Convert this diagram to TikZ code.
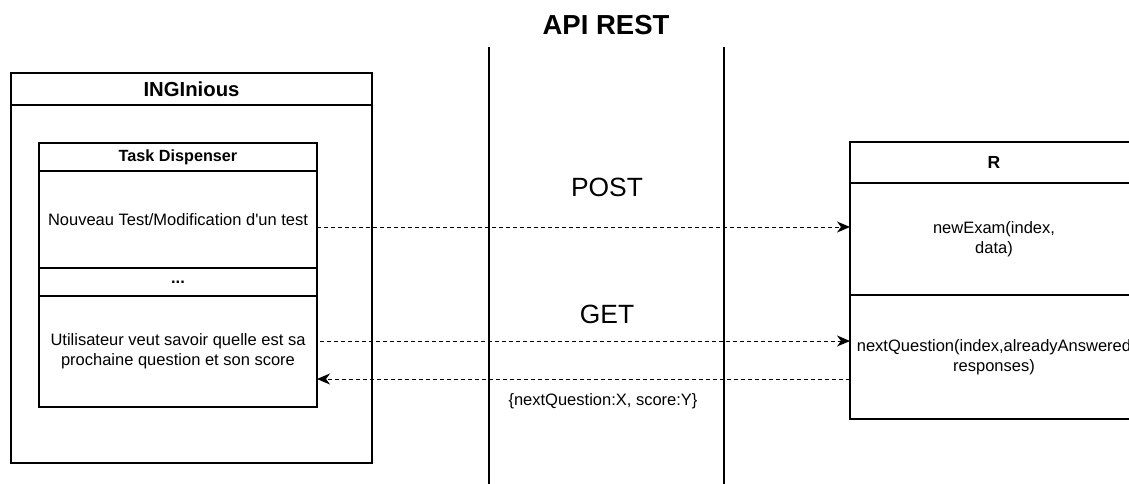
\documentclass[tikz,border=0pt]{standalone}
\usepackage{fontspec}
\setmainfont{Liberation Sans}
\usetikzlibrary{positioning,arrows.meta}
\tikzstyle{lane} = [rectangle, draw, line width=1.2pt, inner sep=0pt, outer sep=0pt, align=center, font=\fontsize{16.5}{20}\selectfont]
\tikzstyle{head} = [lane, font=\fontsize{16.5}{20}\selectfont\bfseries]
\tikzstyle{method} = [text centered, font=\fontsize{26.4}{30}\selectfont]
\tikzstyle{boundary} = [line width=2.6pt]
\tikzstyle{connector} = [line width=1pt, dash pattern=on 4pt off 3pt, -{Stealth[length=13pt,width=11pt,inset=4pt]}]

\begin{document}
\begin{tikzpicture}[x=1pt,y=-1pt]
    \useasboundingbox (0,0) rectangle (1129,484);
    % API REST
    \node (api) [font=\fontsize{27.5}{30}\selectfont\bfseries] at (606,25) {API REST};
    \coordinate (left-top) at (489,47);
    \coordinate (left-bottom) at (489,484);
    \coordinate (right-top) at (724,47);
    \coordinate (right-bottom) at (724,484);
    \draw [boundary] (left-top) -- (left-bottom);
    \draw [boundary] (right-top) -- (right-bottom);
    % INGInious
    \node (ing-head) [head, font=\fontsize{20.3}{24}\selectfont\bfseries, anchor=north west, minimum width=361pt, minimum height=32pt] at (11,73) {INGInious};
    \node (ing-body) [lane, below=0pt of ing-head, minimum width=361pt, minimum height=358pt] {};
    \node (td-head) [head, font=\fontsize{16.2}{20}\selectfont\bfseries, anchor=north west, minimum width=278pt, minimum height=28pt] at (39,143) {Task Dispenser};
    \node (td-new) [lane, below=0pt of td-head, minimum width=278pt, minimum height=97pt] {Nouveau Test/Modification d\textquotesingle un test};
    \node (td-more) [head, below=0pt of td-new, minimum width=278pt, minimum height=28pt] {...};
    \node (td-user) [lane, below=0pt of td-more, minimum width=278pt, minimum height=111pt] {Utilisateur veut savoir quelle est sa\\prochaine question et son score};
    % R
    \node (r-head) [head, font=\fontsize{17.5}{20}\selectfont\bfseries, anchor=north west, minimum width=288pt, minimum height=41pt] at (850,142) {R};
    \node (r-exam) [lane, below=0pt of r-head, minimum width=288pt, minimum height=112pt] {newExam(index,\\data)};
    \node (r-next) [lane, below=0pt of r-exam, minimum width=288pt, minimum height=124pt] {nextQuestion(index,alreadyAnswered\\responses)};
    % requests
    \node (post) [method] at (607,187) {POST};
    \node (get) [method] at (607,314) {GET};
    \node (reply) [font=\fontsize{16.5}{20}\selectfont] at (603,401) {\{nextQuestion:X, score:Y\}};
    \coordinate (post-start) at ([yshift=-7.5pt]td-new.east);
    \coordinate (get-start) at ([xshift=3pt,yshift=10.5pt]td-user.east);
    \coordinate (reply-end) at ([yshift=-27.5pt]td-user.east);
    \draw [connector] (post-start) -- (post-start -| r-exam.west);
    \draw [connector] (get-start) -- (get-start -| r-next.west);
    \draw [connector] (reply-end -| r-next.west) -- (reply-end);
\end{tikzpicture}
\end{document}
